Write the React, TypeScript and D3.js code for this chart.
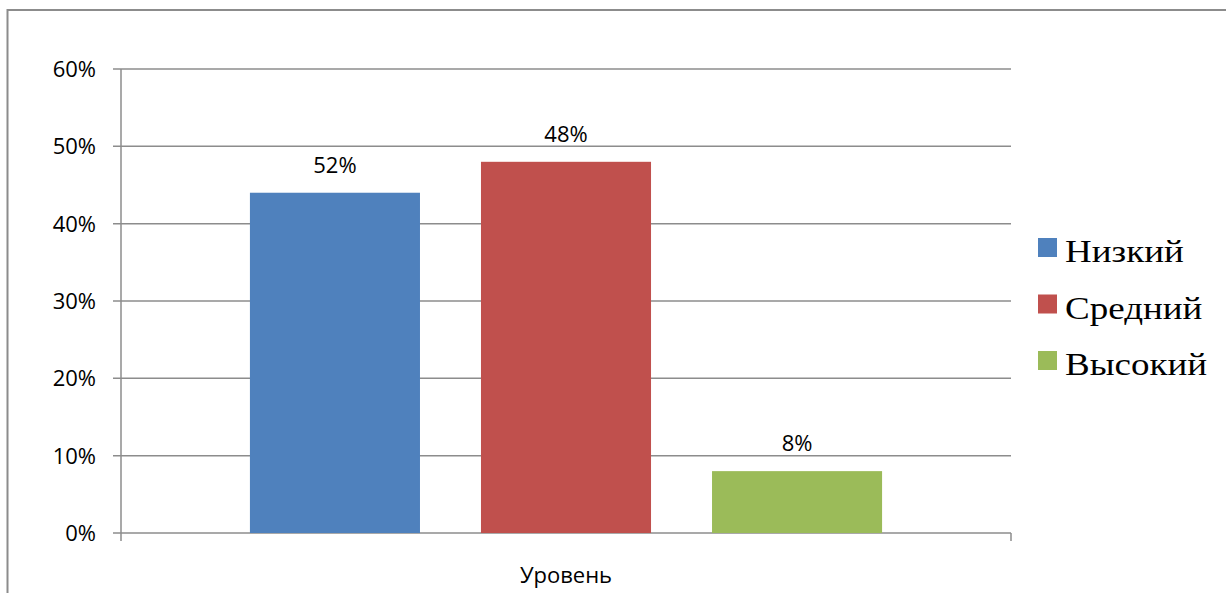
import React from "react";
import * as d3 from "d3";

const categories = ["Уровень"];
const seriesNames = ["Низкий", "Средний", "Высокий"];
const seriesValues = [44, 48, 8];
const dataLabels = ["52%", "48%", "8%"];
const seriesColors = ["#4f81bd", "#c0504d", "#9bbb59"];
const yTicks = [0, 10, 20, 30, 40, 50, 60];

const W = 1226;
const H = 593;
const plot = { left: 121, right: 1011, top: 69, bottom: 533 };

export default function App() {
  const y = d3.scaleLinear().domain([0, 60]).range([plot.bottom, plot.top]);
  const x0 = d3.scaleBand<string>().domain(categories).range([plot.left, plot.right]).padding(0);
  const x1 = d3
    .scaleBand<string>()
    .domain(seriesNames)
    .range([0, x0.bandwidth()])
    .paddingInner(0.264)
    .paddingOuter(0.558);
  const gridColor = "#8c8c8c";
  const font = "'Open Sans', 'Liberation Sans', sans-serif";

  return (
    <svg
      width={W}
      height={H}
      style={{ position: "absolute", left: 0, top: 0, background: "#fff" }}
    >
      <rect x={7.5} y={10} width={1400} height={800} fill="none" stroke={gridColor} strokeWidth={2} />
      {yTicks.map((t) => (
        <g key={t}>
          <line x1={plot.left - 8} x2={plot.right} y1={y(t)} y2={y(t)} stroke={gridColor} strokeWidth={1.5} />
          <text
            x={96}
            y={y(t)}
            dy="0.36em"
            textAnchor="end"
            fontFamily={font}
            fontSize={22}
            fill="#000"
          >
            {t}%
          </text>
        </g>
      ))}
      <line x1={plot.left} x2={plot.left} y1={plot.top} y2={plot.bottom + 8} stroke={gridColor} strokeWidth={1.5} />
      <line x1={plot.right} x2={plot.right} y1={plot.bottom} y2={plot.bottom + 8} stroke={gridColor} strokeWidth={1.5} />
      {categories.map((c) => (
        <g key={c}>
          {seriesNames.map((s, i) => {
            const bx = (x0(c) as number) + (x1(s) as number);
            return (
              <g key={s}>
                <rect
                  x={bx}
                  y={y(seriesValues[i])}
                  width={x1.bandwidth()}
                  height={plot.bottom - y(seriesValues[i])}
                  fill={seriesColors[i]}
                />
                <text
                  x={bx + x1.bandwidth() / 2}
                  y={y(seriesValues[i]) - 20}
                  textAnchor="middle"
                  fontFamily={font}
                  fontSize={22}
                  fill="#000"
                >
                  {dataLabels[i]}
                </text>
              </g>
            );
          })}
          <text
            x={(x0(c) as number) + x0.bandwidth() / 2}
            y={583}
            textAnchor="middle"
            fontFamily={font}
            fontSize={22}
            fill="#000"
          >
            {c}
          </text>
        </g>
      ))}
      {seriesNames.map((s, i) => (
        <g key={s} transform={`translate(1038, ${262 + i * 56.5})`}>
          <rect x={0} y={-24} width={19} height={19} fill={seriesColors[i]} />
          <text
            transform="translate(27,0) scale(1.157,1)"
            fontFamily="'Liberation Serif', 'Times New Roman', serif"
            fontSize={32}
            fill="#000"
          >
            {s}
          </text>
        </g>
      ))}
    </svg>
  );
}
